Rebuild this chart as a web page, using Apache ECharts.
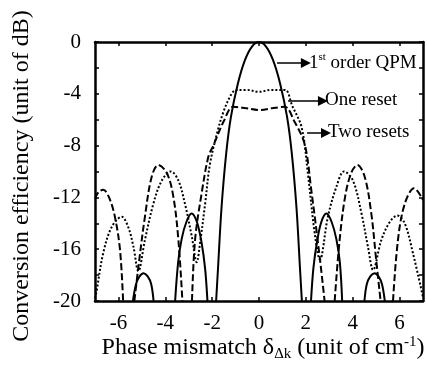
<!DOCTYPE html>
<html lang="en">

<head>
    <meta charset="UTF-8">
    <title>Conversion efficiency</title>
    <script src="https://cdn.jsdelivr.net/npm/echarts@6/dist/echarts.min.js"></script>
    <style>
        html, body { margin: 0; padding: 0; background: #fff; }
    </style>
</head>

<body>
    <div id="chart" style="width: 427px; height: 372px;"></div>

    <script>
        // tick labels
        var xTicks = [-6, -4, -2, 0, 2, 4, 6];
        var yLabels = [-20, -16, -12, -8, -4, 0];
        var yTicks = [-20, -18, -16, -14, -12, -10, -8, -6, -4, -2, 0];

        // 1st order QPM (solid), null splits the lobes
        var qpmX = [-5.38, -5.25, -5.1, -4.93, -4.75, -4.6, -4.5, null,
            -3.58, -3.45, -3.3, -3.1, -2.88, -2.65, -2.45, -2.3, -2.2, null,
            -1.83, -1.75, -1.6, -1.4, -1.2, -0.9, -0.6, -0.3, 0, 0.3, 0.6, 0.9, 1.2, 1.4, 1.6, 1.75, 1.83, null,
            2.22, 2.32, 2.47, 2.66, 2.88, 3.1, 3.3, 3.45, 3.55, null,
            4.5, 4.6, 4.75, 4.93, 5.1, 5.25, 5.37];
        var qpmY = [-20, -18.7, -18.1, -17.85, -18.1, -18.7, -20, null,
            -20, -17, -15.2, -13.9, -13.25, -13.9, -15.5, -17.5, -20, null,
            -20, -17.5, -12.8, -8.6, -5.8, -3.2, -1.4, -0.35, 0, -0.35, -1.4, -3.2, -5.8, -8.6, -12.8, -17.5, -20, null,
            -20, -17.5, -15.5, -13.9, -13.25, -13.9, -15.2, -17, -20, null,
            -20, -18.7, -18.1, -17.85, -18.1, -18.7, -20];

        // One reset (dotted)
        var oneX = [-7, -6.93, -6.65, -6.29, -5.86, -5.58, -5.36, -5.15,
            -4.87, -4.51, -4.15, -3.76, -3.44, -3.16, -2.87, -2.66,
            -2.5, -2.3, -2.1, -1.77, -1.5, -1.2, -1.0, -0.5, 0, 0.5, 1.0, 1.18, 1.4, 1.82, 2.09, 2.38, 2.6,
            2.94, 3.3, 3.63, 4.01, 4.37, 4.65, 4.87,
            5.22, 5.58, 5.9, 6.22, 6.57, 7.0];
        var oneY = [-19.8, -19.2, -16.3, -14.3, -13.5, -14.3, -15.8, -17.7,
            -15.3, -12.5, -10.7, -10.0, -10.7, -12.5, -15.0, -17.0,
            -15.3, -12.5, -9.5, -6.9, -5.3, -4.1, -3.72, -3.7, -3.85, -3.7, -3.7, -3.75, -4.84, -6.6, -10.2, -14.8, -16.8,
            -13.5, -11.2, -10.0, -10.7, -13.2, -15.8, -17.6,
            -15.3, -13.9, -13.4, -14.0, -16.3, -19.7];

        // Two resets (dashed)
        var twoX = [-7, -6.85, -6.65, -6.4, -6.15, -5.93, -5.8, null,
            -5.32, -5.15, -4.87, -4.58, -4.3, -3.94, -3.66, -3.44, -3.27, null,
            -2.86, -2.73, -2.45, -2.16, -1.95, -1.5, -1.1, -0.6, 0, 0.6, 1.1, 1.5, 1.95, 2.23, 2.59, 2.8, null,
            3.23, 3.44, 3.68, 3.94, 4.2, 4.51, 4.79, 5.0, 5.19, null,
            5.72, 5.93, 6.22, 6.62, 7.0];
        var twoY = [-12.1, -11.6, -11.4, -12.0, -13.5, -16.1, -20, null,
            -20, -17.4, -13.5, -10.4, -9.5, -10.1, -11.9, -15.3, -20, null,
            -20, -15.3, -11.7, -8.85, -8.0, -6.1, -5.0, -5.1, -5.25, -5.1, -5.0, -6.1, -7.9, -11.4, -16.6, -20, null,
            -20, -15.3, -11.9, -10.1, -9.5, -10.4, -13.2, -16.8, -20, null,
            -20, -15.3, -12.5, -11.3, -12.2];

        // annotation arrows (start x, end x, y) in data units
        var noteArrows = [[0.77, 2.0, -1.62], [1.24, 2.73, -4.56], [2.05, 2.86, -7.03]];

        function pairs(xs, ys) {
            var out = [];
            for (var i = 0; i < xs.length; i++) {
                out.push(xs[i] === null ? [null, null] : [xs[i], ys[i]]);
            }
            return out;
        }

        var font = 'Liberation Serif';
        var chartDom = document.getElementById('chart');
        var myChart = echarts.init(chartDom);

        var frameAxis = {
            axisLine: { show: true, onZero: false, lineStyle: { color: '#000', width: 2.5 } },
            splitLine: { show: false }
        };

        var option = {
            animation: false,
            backgroundColor: '#fff',
            grid: { left: 95, right: 4, top: 42, bottom: 71 },
            xAxis: [
                Object.assign({
                    type: 'value', min: -7, max: 7, position: 'bottom',
                    axisTick: { inside: true, length: 4, customValues: xTicks, lineStyle: { color: '#000', width: 1.5 } },
                    axisLabel: { customValues: xTicks, color: '#000', fontFamily: font, fontSize: 21, margin: 12 }
                }, frameAxis),
                Object.assign({
                    type: 'value', min: -7, max: 7, position: 'top',
                    axisTick: { inside: true, length: 4, customValues: xTicks, lineStyle: { color: '#000', width: 1.5 } },
                    axisLabel: { show: false }
                }, frameAxis)
            ],
            yAxis: [
                Object.assign({
                    type: 'value', min: -20, max: 0, position: 'left',
                    axisTick: { inside: true, length: 4, customValues: yTicks, lineStyle: { color: '#000', width: 1.5 } },
                    axisLabel: { customValues: yLabels, color: '#000', fontFamily: font, fontSize: 21, margin: 14 }
                }, frameAxis),
                Object.assign({
                    type: 'value', min: -20, max: 0, position: 'right',
                    axisTick: { inside: true, length: 4, customValues: yTicks, lineStyle: { color: '#000', width: 1.5 } },
                    axisLabel: { show: false }
                }, frameAxis)
            ],
            series: [
                {
                    name: '1st order QPM', type: 'line', smooth: 0.35, symbol: 'none',
                    lineStyle: { color: '#000', width: 2 },
                    data: pairs(qpmX, qpmY),
                    markLine: {
                        silent: true, symbol: ['none', 'triangle'], symbolSize: 10,
                        label: { show: false },
                        lineStyle: { color: '#000', width: 1.5, type: 'solid' },
                        data: noteArrows.map(function (a) {
                            return [{ coord: [a[0], a[2]] }, { coord: [a[1], a[2]] }];
                        })
                    }
                },
                {
                    name: 'One reset', type: 'line', smooth: 0.35, symbol: 'none',
                    lineStyle: { color: '#000', width: 2, type: [2, 2] },
                    data: pairs(oneX, oneY)
                },
                {
                    name: 'Two resets', type: 'line', smooth: 0.35, symbol: 'none',
                    lineStyle: { color: '#000', width: 2, type: [7, 3] },
                    data: pairs(twoX, twoY)
                }
            ],
            graphic: [
                {
                    type: 'text', left: 309, top: 52,
                    style: {
                        text: '1{sup|st} order QPM', fill: '#000', font: '19px ' + font,
                        rich: { sup: { fontSize: 11, fontFamily: font, verticalAlign: 'top', lineHeight: 22 } }
                    }
                },
                { type: 'text', left: 325, top: 91, style: { text: 'One reset', fill: '#000', font: '19px ' + font } },
                { type: 'text', left: 328, top: 123, style: { text: 'Two resets', fill: '#000', font: '19px ' + font } },
                {
                    type: 'text', x: 263, y: 348,
                    style: {
                        text: 'Phase mismatch δ{sub|Δk} (unit of cm{sup|-1})', fill: '#000',
                        font: '24px ' + font, align: 'center', verticalAlign: 'middle',
                        rich: {
                            sub: { fontSize: 15, fontFamily: font, verticalAlign: 'bottom', lineHeight: 27 },
                            sup: { fontSize: 15, fontFamily: font, verticalAlign: 'top', lineHeight: 27 }
                        }
                    }
                },
                {
                    type: 'text', x: 22, y: 176, rotation: Math.PI / 2,
                    style: {
                        text: 'Conversion efficiency (unit of dB)', fill: '#000',
                        font: '24px ' + font, align: 'center', verticalAlign: 'middle'
                    }
                }
            ]
        };

        option && myChart.setOption(option);
    </script>

</body>

</html>
